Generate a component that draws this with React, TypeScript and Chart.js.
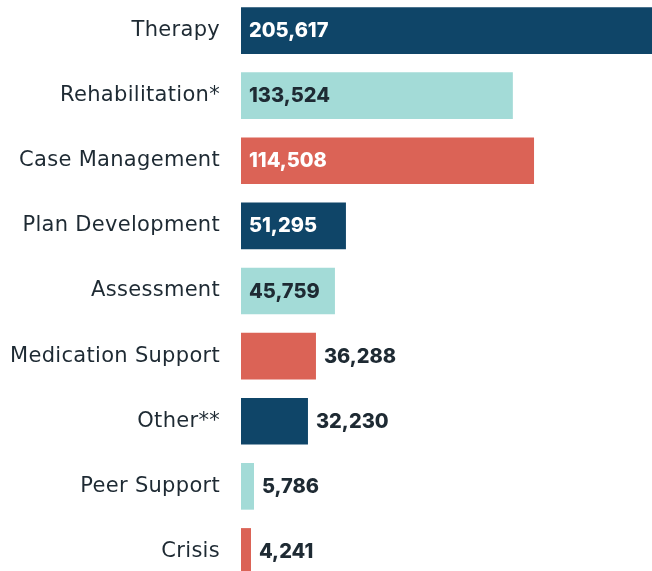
import React, { useEffect, useRef } from "react";
import { Chart, registerables } from "chart.js";

Chart.register(...registerables);

const categories = [
  "Therapy",
  "Rehabilitation*",
  "Case Management",
  "Plan Development",
  "Assessment",
  "Medication Support",
  "Other**",
  "Peer Support",
  "Crisis",
];
// bar lengths as drawn in the picture
const barValues = [205617, 136000, 146600, 52500, 47000, 37500, 33500, 6500, 5000];
// value labels as printed
const valueLabels = ["205,617", "133,524", "114,508", "51,295", "45,759", "36,288", "32,230", "5,786", "4,241"];
const labelInside = [true, true, true, true, true, false, false, false, false];

const NAVY = "#0F4568";
const TEAL = "#A3DBD7";
const RED = "#DB6356";
const DARK = "#1E2A33";
const barColors = [NAVY, TEAL, RED, NAVY, TEAL, RED, NAVY, TEAL, RED];
const insideTextColors = ["#FFFFFF", DARK, "#FFFFFF", "#FFFFFF", DARK, "#FFFFFF", "#FFFFFF", DARK, "#FFFFFF"];

const TICK_FONT = "'DejaVu Sans', 'Open Sans', sans-serif";
const VALUE_FONT = "Inter, 'DejaVu Sans', sans-serif";

const spacingPlugin = {
  id: "spacing",
  beforeDraw(chart: any) {
    chart.ctx.letterSpacing = "0.3px";
  },
};

const valueLabelPlugin = {
  id: "valueLabels",
  afterDatasetsDraw(chart: any) {
    const ctx = chart.ctx;
    const meta = chart.getDatasetMeta(0);
    ctx.save();
    ctx.letterSpacing = "0px";
    ctx.font = `800 20px ${VALUE_FONT}`;
    ctx.textBaseline = "middle";
    ctx.textAlign = "left";
    meta.data.forEach((bar: any, i: number) => {
      const inside = labelInside[i];
      const x = inside ? bar.base + 8 : bar.x + 8;
      ctx.fillStyle = inside ? insideTextColors[i] : DARK;
      ctx.fillText(valueLabels[i], x, bar.y + 0.5);
    });
    ctx.restore();
  },
};

export default function App() {
  const ref = useRef<HTMLCanvasElement | null>(null);
  useEffect(() => {
    if (!ref.current) return;
    const chart = new Chart(ref.current, {
      type: "bar",
      data: {
        labels: categories,
        datasets: [
          {
            data: barValues,
            backgroundColor: barColors,
            borderWidth: 0,
            categoryPercentage: 1,
            barPercentage: 0.717,
          },
        ],
      },
      options: {
        indexAxis: "y",
        animation: false,
        responsive: false,
        maintainAspectRatio: false,
        layout: { padding: 0, autoPadding: false },
        plugins: { legend: { display: false }, tooltip: { enabled: false } },
        scales: {
          x: { display: false, min: 0, max: 205617 },
          y: {
            grid: { display: false, drawTicks: false },
            border: { display: false },
            ticks: {
              color: DARK,
              padding: 21,
              font: { family: TICK_FONT, size: 21, weight: "400" },
            },
            afterFit(scale: any) {
              scale.width = 241;
              scale.paddingTop = 0;
              scale.paddingBottom = 0;
            },
          },
        },
      },
      plugins: [spacingPlugin, valueLabelPlugin],
    });
    return () => chart.destroy();
  }, []);
  return (
    <div style={{ position: "absolute", left: 0, top: -2, width: 652, height: 586 }}>
      <canvas ref={ref} width={652} height={586} style={{ display: "block" }} />
    </div>
  );
}
